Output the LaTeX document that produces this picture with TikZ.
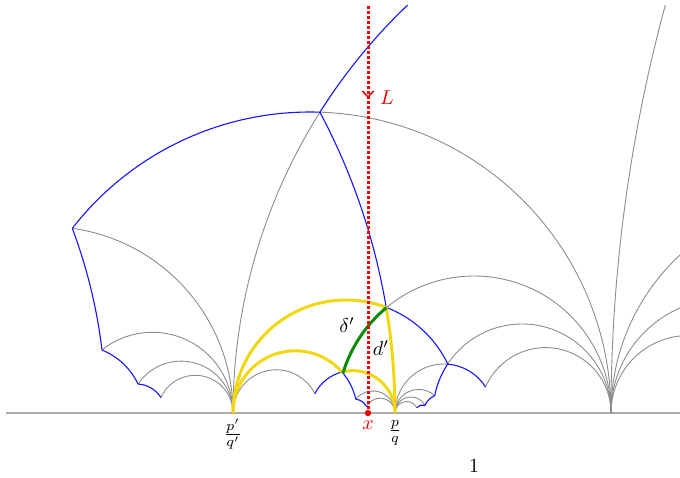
\documentclass[tikz,border=0pt]{standalone}
\usepackage{amsmath}
\definecolor{arcgray}{RGB}{140,140,140}
\definecolor{basegray}{RGB}{170,170,170}
\definecolor{arcblue}{RGB}{20,20,255}
\definecolor{arcyellow}{RGB}{240,215,15}
\definecolor{arcgreen}{RGB}{10,140,10}
\definecolor{lred}{RGB}{240,0,0}
\newcommand{\geo}[5][]{%
  \pgfmathsetmacro{\geoA}{acos(max(-1,min(1,(#4-(#2))/(#3))))}%
  \pgfmathsetmacro{\geoB}{acos(max(-1,min(1,(#5-(#2))/(#3))))}%
  \draw[#1] ({#2+#3*cos(\geoA)},{#3*sin(\geoA)}) arc[start angle=\geoA, end angle=\geoB, radius=#3];%
}
\tikzset{
  garc/.style={draw=arcgray, line width=0.45pt},
  barc/.style={draw=arcblue, line width=0.55pt},
  yarc/.style={draw=arcyellow, line width=1.5pt},
  greenarc/.style={draw=arcgreen, line width=1.5pt},
  lab/.style={inner sep=0pt, font=\normalsize},
}
\begin{document}
\begin{tikzpicture}[x=0.5pt,y=0.5pt]
\useasboundingbox (0,-64) rectangle (680,413);
% baseline
\coordinate (b0) at (6,0);
\coordinate (b1) at (680,0);
\draw[draw=basegray, line width=0.7pt] (b0) -- (b1);
\begin{scope}
\clip (0,-64) rectangle (680,407);
% ---------- gray geodesics ----------
\geo[garc]{310}{301}{319.9}{611}
\geo[garc]{797}{564}{233}{319.9}
\geo[garc]{474}{137}{386.4}{611}
\geo[garc]{522}{89}{447.8}{611}
\geo[garc]{545.6}{65.4}{485.6}{611}
\geo[garc]{826.4}{215.4}{611}{700}
\geo[garc]{725.4}{114.4}{611}{700}
\geo[garc]{688.5}{77.5}{611}{700}
\geo[garc]{2171.8}{1560.8}{611}{700}
\geo[garc]{46.5}{186.5}{72.3}{233}
\geo[garc]{152.3}{80.7}{102}{233}
\geo[garc]{181.1}{51.9}{138}{233}
\geo[garc]{195.3}{37.7}{160.9}{233}
\geo[garc]{276.2}{43.2}{233}{314.8}
\geo[garc]{444}{49}{395}{447.8}
\geo[garc]{373}{22}{355.9}{395}
\geo[garc]{380.2}{14.8}{366.7}{395}
\geo[garc]{418.6}{23.6}{395}{434.7}
\geo[garc]{411}{16}{395}{425}
\geo[garc]{406.5}{11.5}{395}{416.7}
% ---------- blue ----------
\geo[barc]{310}{301}{72.3}{319.9}
\geo[barc]{797}{564}{319.9}{430}
\geo[barc]{-245}{640}{319.9}{386.2}
\geo[barc]{346}{113}{386.2}{447.8}
\geo[barc]{444}{49}{447.8}{485.6}
\geo[barc]{522}{89}{434.7}{447.8}
\geo[barc]{442.2}{18.85}{434.7}{425}
\geo[barc]{422.8}{8.05}{425}{416.7}
\geo[barc]{-420.3}{526.1}{72.3}{102}
\geo[barc]{76.6}{67.9}{102}{138}
\geo[barc]{136.4}{29}{138}{160.9}
\geo[barc]{352.6}{42.4}{314.8}{342.9}
\geo[barc]{295.2}{62.2}{342.9}{355.9}
\geo[barc]{354.3}{13.9}{355.9}{366.7}
% ---------- yellow ----------
\geo[yarc]{346}{113}{233}{386.2}
\geo[yarc]{-245}{640}{386.2}{395}
\geo[yarc]{295.2}{62.2}{233}{342.9}
\geo[yarc]{352.6}{42.4}{342.9}{395}
% ---------- green ----------
\geo[greenarc]{474}{137}{342.9}{386.4}
% ---------- red line L ----------
\coordinate (Ltop) at (368,407);
\coordinate (xpt) at (368,0);
\draw[lred, line width=1.5pt, dash pattern=on 1.5pt off 1pt] (Ltop) -- (xpt);
\draw[lred, line width=0.8pt] (362.5,322) -- (368,316) -- (373.5,322);
\end{scope}
\fill[lred] (xpt) circle[radius=3.2];
% ---------- labels ----------
\node[lab, text=lred] (Llab) at (387,315) {$L$};
\node[lab] (dlt) at (347,88) {$\delta'$};
\node[lab] (dpr) at (381,65) {$d'$};
\node[lab, text=lred] (xlab) at (368,-12) {$x$};
\node[lab] (pq) at (395,-20) {$\frac{p}{q}$};
\node[lab] (ppqp) at (233,-21) {$\frac{p'}{q'}$};
\node[lab] (one) at (474,-53) {$1$};
\end{tikzpicture}
\end{document}
